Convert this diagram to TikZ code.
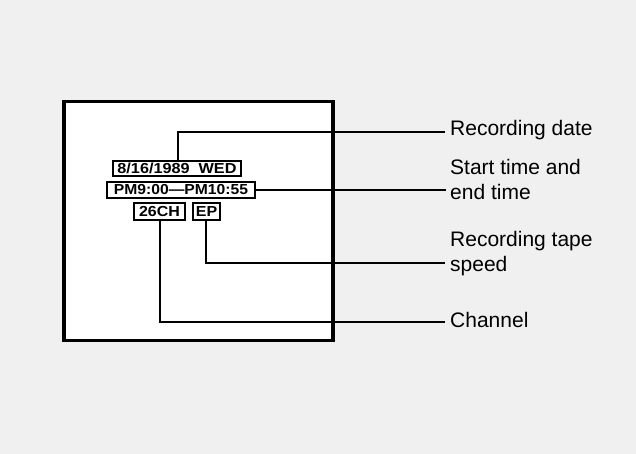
\documentclass[tikz,border=0pt]{standalone}
\usepackage{fontspec}
\setmainfont{Liberation Sans}
\newfontfamily\boxfont{Liberation Sans}
\definecolor{bgdots}{HTML}{F0F0F0}
\tikzset{
  osd/.style={draw=black, line width=1.8pt, fill=white, inner sep=0pt, minimum height=15pt, font=\boxfont\bfseries\fontsize{14.5}{14.5}\selectfont},
  lead/.style={line width=1.7pt, black},
  lab/.style={anchor=base west, inner sep=0pt, font=\fontsize{21}{25.5}\selectfont, align=left},
}
\newcommand{\wide}[2]{\scalebox{#1}[1]{#2}}
\begin{document}
\begin{tikzpicture}[x=1pt,y=-1pt]
\fill[bgdots] (0,0) rectangle (636,454);
\useasboundingbox (0,0) rectangle (636,454);
\node[draw=black, line width=3.5pt, fill=white, minimum width=269pt, minimum height=239pt, inner sep=0pt] (screen) at (198.5,221) {};
\node[osd, minimum width=128pt] (date) at (177,168.5) {\wide{1.12}{8/16/1989\hspace{4pt} WED}};
\node[osd, minimum width=148pt, minimum height=16pt] (time) at (181,190) {\wide{1.08}{PM9:00—PM10:55}};
\node[osd, minimum width=51pt, minimum height=17pt] (ch) at (159.5,211.5) {\wide{1.1}{26CH}};
\node[osd, minimum width=27pt, minimum height=17pt] (ep) at (206.5,211.5) {\wide{1.1}{EP}};
\coordinate (e1) at (445,132);
\coordinate (e2) at (445,190.5);
\coordinate (e3) at (445,263);
\coordinate (e4) at (445,322);
\draw[lead] ([xshift=1pt]date.north) |- (e1);
\draw[lead] (time.east) -- (time.east -| e2) -- (e2);
\draw[lead] ([xshift=-0.5pt]ep.south) |- (e3);
\draw[lead] ([xshift=0.5pt]ch.south) |- (e4);
\node[lab] (l1) at (450,136) {Recording date};
\node[lab] (l2) at (450,200) {Start time and\\end time};
\node[lab] (l3) at (450,271.5) {Recording tape\\speed};
\node[lab] (l4) at (450,327.5) {Channel};
\end{tikzpicture}
\end{document}
